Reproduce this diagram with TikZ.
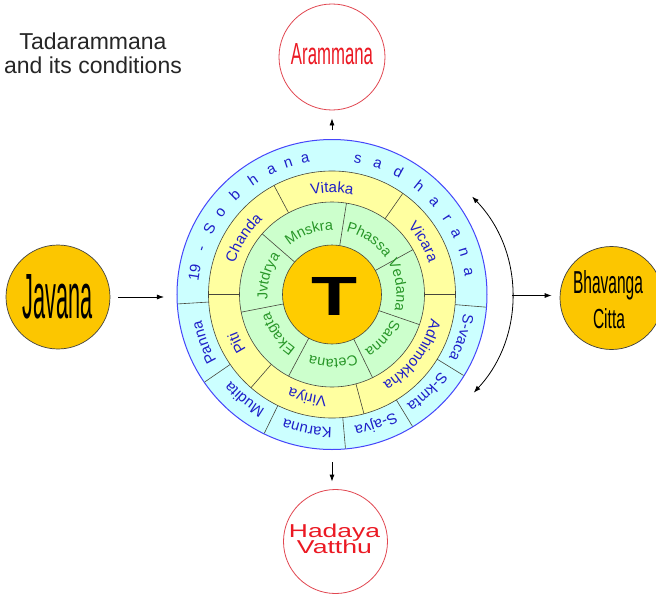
\documentclass[tikz,border=0pt]{standalone}
\usepackage{fontspec}
\usepackage{graphicx}
\setmainfont{Liberation Sans}
\setsansfont{Liberation Sans}
\usetikzlibrary{decorations.text,arrows.meta}

\definecolor{ringcyan}{RGB}{204,255,255}
\definecolor{ringyellow}{RGB}{255,255,160}
\definecolor{ringgreen}{RGB}{204,255,204}
\definecolor{coreorange}{RGB}{255,204,0}
\definecolor{rimblue}{RGB}{70,70,250}
\definecolor{txtblue}{RGB}{30,30,200}
\definecolor{txtgreen}{RGB}{40,150,40}
\definecolor{divgray}{RGB}{70,70,60}
\definecolor{condred}{RGB}{235,25,35}
\definecolor{circred}{RGB}{225,70,80}
\definecolor{ballgold}{RGB}{252,198,0}

% text set along a clockwise arc, centred on a given angle
% #1 baseline radius, #2 middle angle, #3 format, #4 text
\newcommand\ringlabel[4]{%
  \path[decorate,decoration={text along path,text align=center,text={|#3|#4}}]
    ({#2+40}:#1) arc[start angle={#2+40},end angle={#2-40},radius=#1];}

\newcommand\bluefmt{\fontsize{15}{18}\selectfont\color{txtblue}}
\newcommand\greenfmt{\fontsize{14.5}{17}\selectfont\color{txtgreen}}

\begin{document}
\begin{tikzpicture}[x=1pt,y=1pt,
  arr/.style={draw=black,line width=0.8pt,-{Latex[length=7pt,width=5pt]}},
  arrboth/.style={draw=black,line width=0.8pt,{Latex[length=7pt,width=5pt]}-{Latex[length=7pt,width=5pt]}},
  divider/.style={draw=divgray,line width=0.6pt},
  ring/.style={circle,inner sep=0pt,outer sep=0pt},
  ball/.style={circle,fill=ballgold,draw=black!75,line width=0.7pt,inner sep=0pt},
  redring/.style={circle,fill=white,draw=circred,line width=0.8pt,inner sep=0pt},
  spoke/.style={anchor=base,inner sep=0pt,font=\bluefmt}]

\clip (-332,-300.5) rectangle (324,294.5);
\fill[white] (-332,-300.5) rectangle (324,294.5);

% title
\node[anchor=base,font=\fontsize{23}{27}\selectfont,text=black!85] (title1) at (-239,244.5) {Tadarammana};
\node[anchor=base,font=\fontsize{23}{27}\selectfont,text=black!85] (title2) at (-239,221.2) {and its conditions};

% the wheel: four concentric discs
\node[ring,fill=ringcyan,draw=rimblue,line width=1pt,minimum size=310pt] (wheel) at (0,0) {};
\node[ring,fill=ringyellow,draw=divgray,line width=0.6pt,minimum size=247pt] (ringY) at (0,0) {};
\node[ring,fill=ringgreen,draw=divgray,line width=0.6pt,minimum size=185pt] (ringG) at (0,0) {};
\node[ring,fill=coreorange,draw=divgray,line width=0.6pt,minimum size=99pt] (core) at (0,0) {};

% segment dividers
\foreach \a in {81,29,-19,-64,-118,-169,139}
  \draw[divider] (\a:49.5) -- (\a:92.5);
\foreach \a in {180,118,55,0,-75,-131}
  \draw[divider] (\a:92.5) -- (\a:123.5);
\foreach \a in {-4.7,-31.6,-58.6,-85,-116,-145.5,-176.5}
  \draw[divider] (\a:123.5) -- (\a:154.5);

% inner ring
\ringlabel{64.5}{110}{\greenfmt}{Mnskra}
\ringlabel{64.5}{56}{\greenfmt}{Phassa}
\ringlabel{64.5}{8}{\greenfmt}{Vedana}
\ringlabel{64.5}{-41}{\greenfmt}{Sanna}
\ringlabel{64.5}{-89}{\greenfmt}{Cetana}
\ringlabel{64.5}{-144}{\greenfmt}{Ekagta}
\ringlabel{64.5}{164}{\greenfmt}{Jvtdrya}

% middle ring
\ringlabel{102}{90}{\bluefmt}{Vitaka}
\ringlabel{102}{30}{\bluefmt}{Vicara}
\ringlabel{102}{-37}{\bluefmt}{Adhimokkha}
\ringlabel{102}{-103.5}{\bluefmt}{Viriya}
\ringlabel{102}{-153}{\bluefmt}{Piti}
\ringlabel{102}{147.5}{\bluefmt}{Chanda}

% outer ring
\ringlabel{133}{-18.4}{\bluefmt}{S-vaca}
\ringlabel{133}{-45.7}{\bluefmt}{S-kmta}
\ringlabel{133}{-71.2}{\bluefmt}{S-ajva}
\ringlabel{133}{-100.5}{\bluefmt}{Karuna}
\ringlabel{133}{-129.8}{\bluefmt}{Mudita}
\ringlabel{133}{-159.4}{\bluefmt}{Panna}

% spaced-out heading round the upper half of the outer ring
\foreach \a/\c [count=\i] in {171/19,160.6/-,151.8/S,143.6/o,134.3/b,124.6/h,116/a,108.4/n,101.2/a,
    79.2/s,70.7/a,61.5/d,51.1/h,42.2/a,33.6/r,26.2/a,17.7/n,9.3/a}
  \node[spoke,rotate=\a-90] (ch\i) at (\a:134) {\c};

% centre letter
\node[inner sep=0pt] (tee) at (3,-1.5) {\resizebox{46pt}{38pt}{\bfseries T}};

% surrounding circles
\node[redring,minimum size=106pt] (aram) at (0,237.5) {};
\node[anchor=base,inner sep=0pt,text=condred] (aramtxt) at (0,229.5) {\resizebox{82pt}{21pt}{Arammana}};

\node[redring,minimum size=104pt] (hadaya) at (3.5,-247) {};
\node[anchor=base,inner sep=0pt,text=condred] (hadaya1) at (2.5,-242.5) {\resizebox{91pt}{13.5pt}{Hadaya}};
\node[anchor=base,inner sep=0pt,text=condred] (hadaya2) at (2.5,-258.5) {\resizebox{75pt}{13.5pt}{Vatthu}};

\node[ball,minimum size=104pt] (javana) at (-274,-2.5) {\resizebox{70pt}{44pt}{Javana}};

\node[ball,minimum size=103pt] (bhav) at (279.5,-3.5) {};
\node[anchor=base,inner sep=0pt] (bhav1) at (276,1.5) {\resizebox{70pt}{23pt}{Bhavanga}};
\node[anchor=base,inner sep=0pt] (bhav2) at (277,-33.5) {\resizebox{32pt}{20pt}{Citta}};

% connectors
\draw[arr] ([yshift=9.5pt]wheel.north) -- ([yshift=-8pt]aram.south);
\draw[arr] ([yshift=-12.5pt]wheel.south) -- ([yshift=7.5pt]wheel.south |- hadaya.north);
\draw[arr] ([xshift=8pt]javana.east) -- ([xshift=-13pt]javana.east -| wheel.west);

\coordinate (arcc) at (37.5,-1);
\coordinate (arcmid) at ([xshift=142.5pt]arcc);
\draw[arrboth] ([shift={(44:142.5)}]arcc) arc[start angle=44,end angle=-43,radius=142.5];
\draw[arr] (arcmid) -- ([xshift=-8pt]arcmid -| bhav.west);
\end{tikzpicture}
\end{document}
